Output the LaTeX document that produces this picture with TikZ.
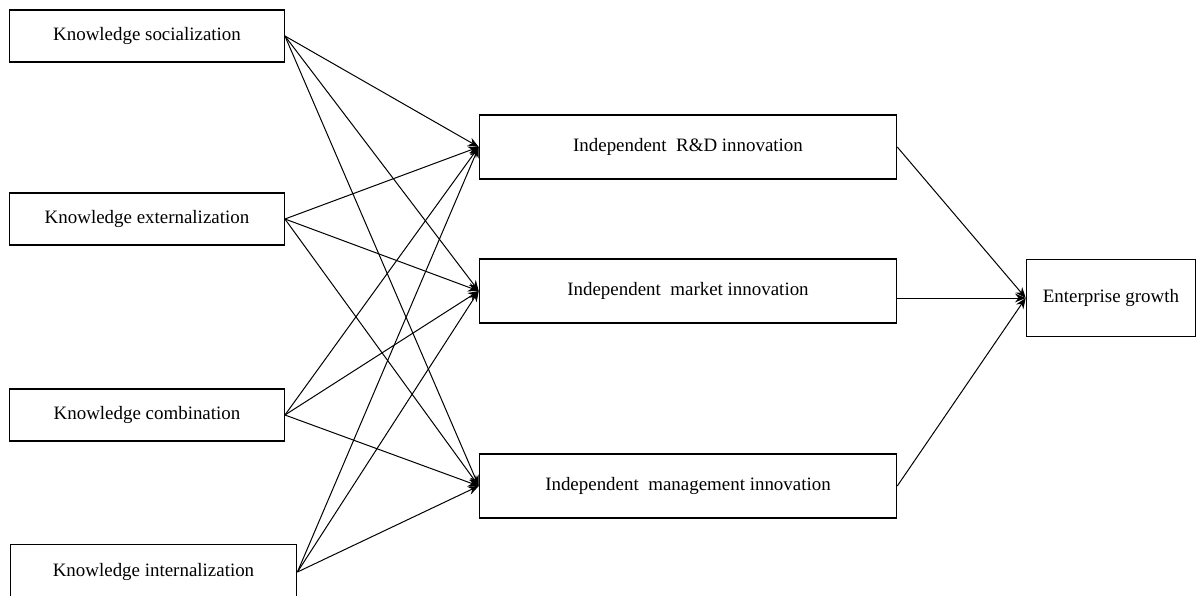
\documentclass[tikz,border=0pt]{standalone}
\usepackage{fontspec}
\setmainfont{Liberation Serif}
\usepackage{tikz}
\usetikzlibrary{arrows.meta}
\tikzset{>={Stealth[length=8pt,width=6.5pt]}}
\tikzset{%
    modebox/.style={draw, line width=0.9pt, minimum width=206pt, minimum height=39pt,
        inner sep=0pt, font=\fontsize{14.2}{16}\selectfont},
    innobox/.style={draw, line width=0.9pt, minimum width=313pt, minimum height=48pt,
        inner sep=0pt, font=\fontsize{14.2}{16}\selectfont},
    growthbox/.style={draw, line width=0.9pt, minimum width=127pt, minimum height=58pt,
        inner sep=0pt, font=\fontsize{14.2}{16}\selectfont},
    link/.style={->, line width=0.75pt}
}

\begin{document}
\begin{tikzpicture}[x=0.75pt,y=-0.75pt]
\useasboundingbox (0,0) rectangle (1203,596);

% knowledge conversion modes
\node[modebox] (soc) at (147,36) {Knowledge socialization};
\node[modebox] (ext) at (147,219) {Knowledge externalization};
\node[modebox] (com) at (147,415) {Knowledge combination};
\node[modebox, minimum width=215pt, minimum height=41pt] (int) at (153.5,572) {Knowledge internalization};

% independent innovation
\node[innobox] (rd) at (688,147) {Independent\ \ R\&D innovation};
\node[innobox] (mkt) at (688,291) {Independent\ \ market innovation};
\node[innobox] (mgt) at (688,486) {Independent\ \ management innovation};

\node[growthbox] (grow) at (1111,298) {Enterprise growth};

\draw[link] (soc.east) -- (rd.west);
\draw[link] (soc.east) -- (mkt.west);
\draw[link] (soc.east) -- (mgt.west);

\draw[link] (ext.east) -- (rd.west);
\draw[link] (ext.east) -- (mkt.west);
\draw[link] (ext.east) -- (mgt.west);

\draw[link] (com.east) -- (rd.west);
\draw[link] (com.east) -- (mkt.west);
\draw[link] (com.east) -- (mgt.west);

\draw[link] (int.east) -- (rd.west);
\draw[link] (int.east) -- (mkt.west);
\draw[link] (int.east) -- (mgt.west);

\draw[link] (rd.east) -- (grow.west);
\draw[link] (mkt.east |- grow.west) -- (grow.west);
\draw[link] (mgt.east) -- (grow.west);
\end{tikzpicture}
\end{document}
